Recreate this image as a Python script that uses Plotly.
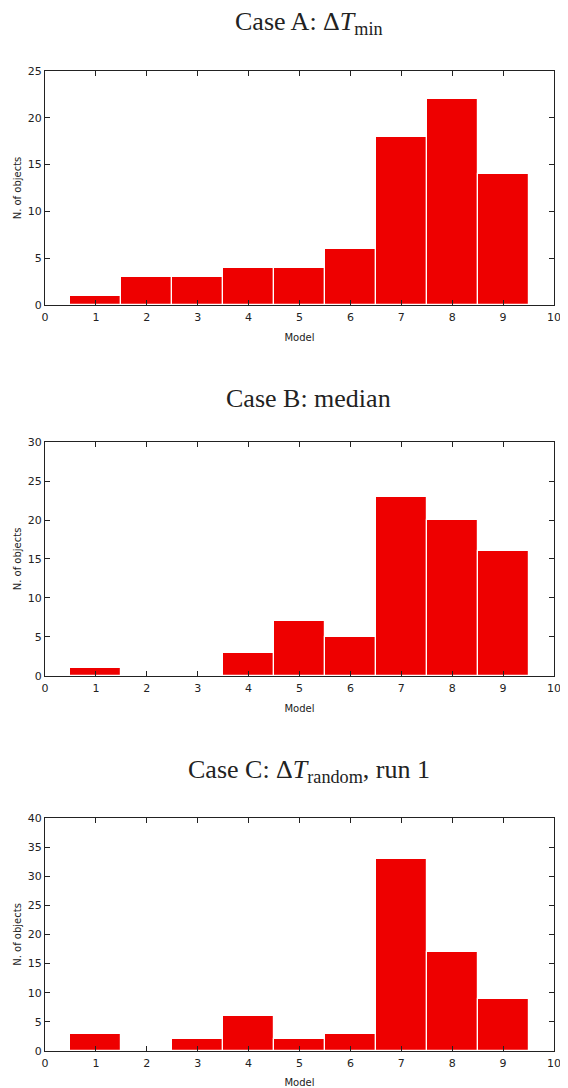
import plotly.graph_objects as go
from plotly.subplots import make_subplots

# --------------------------------------------------------------------------------
# Data
models = [1, 2, 3, 4, 5, 6, 7, 8, 9]
case_a = [1, 3, 3, 4, 4, 6, 18, 22, 14]
case_b = [1, 0, 0, 3, 7, 5, 23, 20, 16]
case_c = [3, 0, 2, 6, 2, 3, 33, 17, 9]
titles = [
    'Case A: Δ<i>T</i><sub>min</sub>',
    'Case B: median',
    'Case C: Δ<i>T</i><sub>random</sub>, run 1',
]
y_max = [25, 30, 40]

# --------------------------------------------------------------------------------
# Figure (page body keeps an 8 px margin, so the figure is 8 px smaller)
fig = make_subplots(rows=3, cols=1)
domains = [[0.7612, 1.0], [0.3827, 0.6214], [0.0, 0.2378]]
title_y = [23, 398, 771]

for i, counts in enumerate([case_a, case_b, case_c]):
    fig.add_trace(go.Bar(
        x=models,
        y=counts,
        width=1,
        marker=dict(color='#ee0000', line=dict(color='white', width=1.2)),
        showlegend=False,
    ), row=i + 1, col=1)

    axis_common = dict(
        showline=True, linecolor='#222', linewidth=1.3, mirror='ticks',
        ticks='inside', ticklen=5, tickcolor='#222', tickwidth=1.2,
        showgrid=False, zeroline=False, automargin=False,
        tickfont=dict(family='DejaVu Sans', size=11, color='#222'),
    )
    fig.update_xaxes(
        range=[0, 10], dtick=1, tick0=0, ticklabelstandoff=2,
        title=dict(text='Model', font=dict(family='DejaVu Sans', size=10, color='#222'), standoff=10),
        **axis_common, row=i + 1, col=1)
    fig.update_yaxes(
        range=[0, y_max[i]], dtick=5, tick0=0, domain=domains[i],
        title=dict(text='N. of objects', font=dict(family='DejaVu Sans', size=10, color='#222'), standoff=4),
        **axis_common, row=i + 1, col=1)

    fig.add_annotation(
        text=titles[i], xref='paper', yref='paper',
        x=0.518, y=1 + (71 - title_y[i]) / 980, yanchor='middle', xanchor='center',
        showarrow=False,
        font=dict(family='Liberation Serif', size=26, color='#222'),
    )

fig.update_layout(
    width=560, height=1080,
    margin=dict(l=37, r=14, t=63, b=37),
    paper_bgcolor='white', plot_bgcolor='white',
    bargap=0,
)

fig.write_html('out.html')
